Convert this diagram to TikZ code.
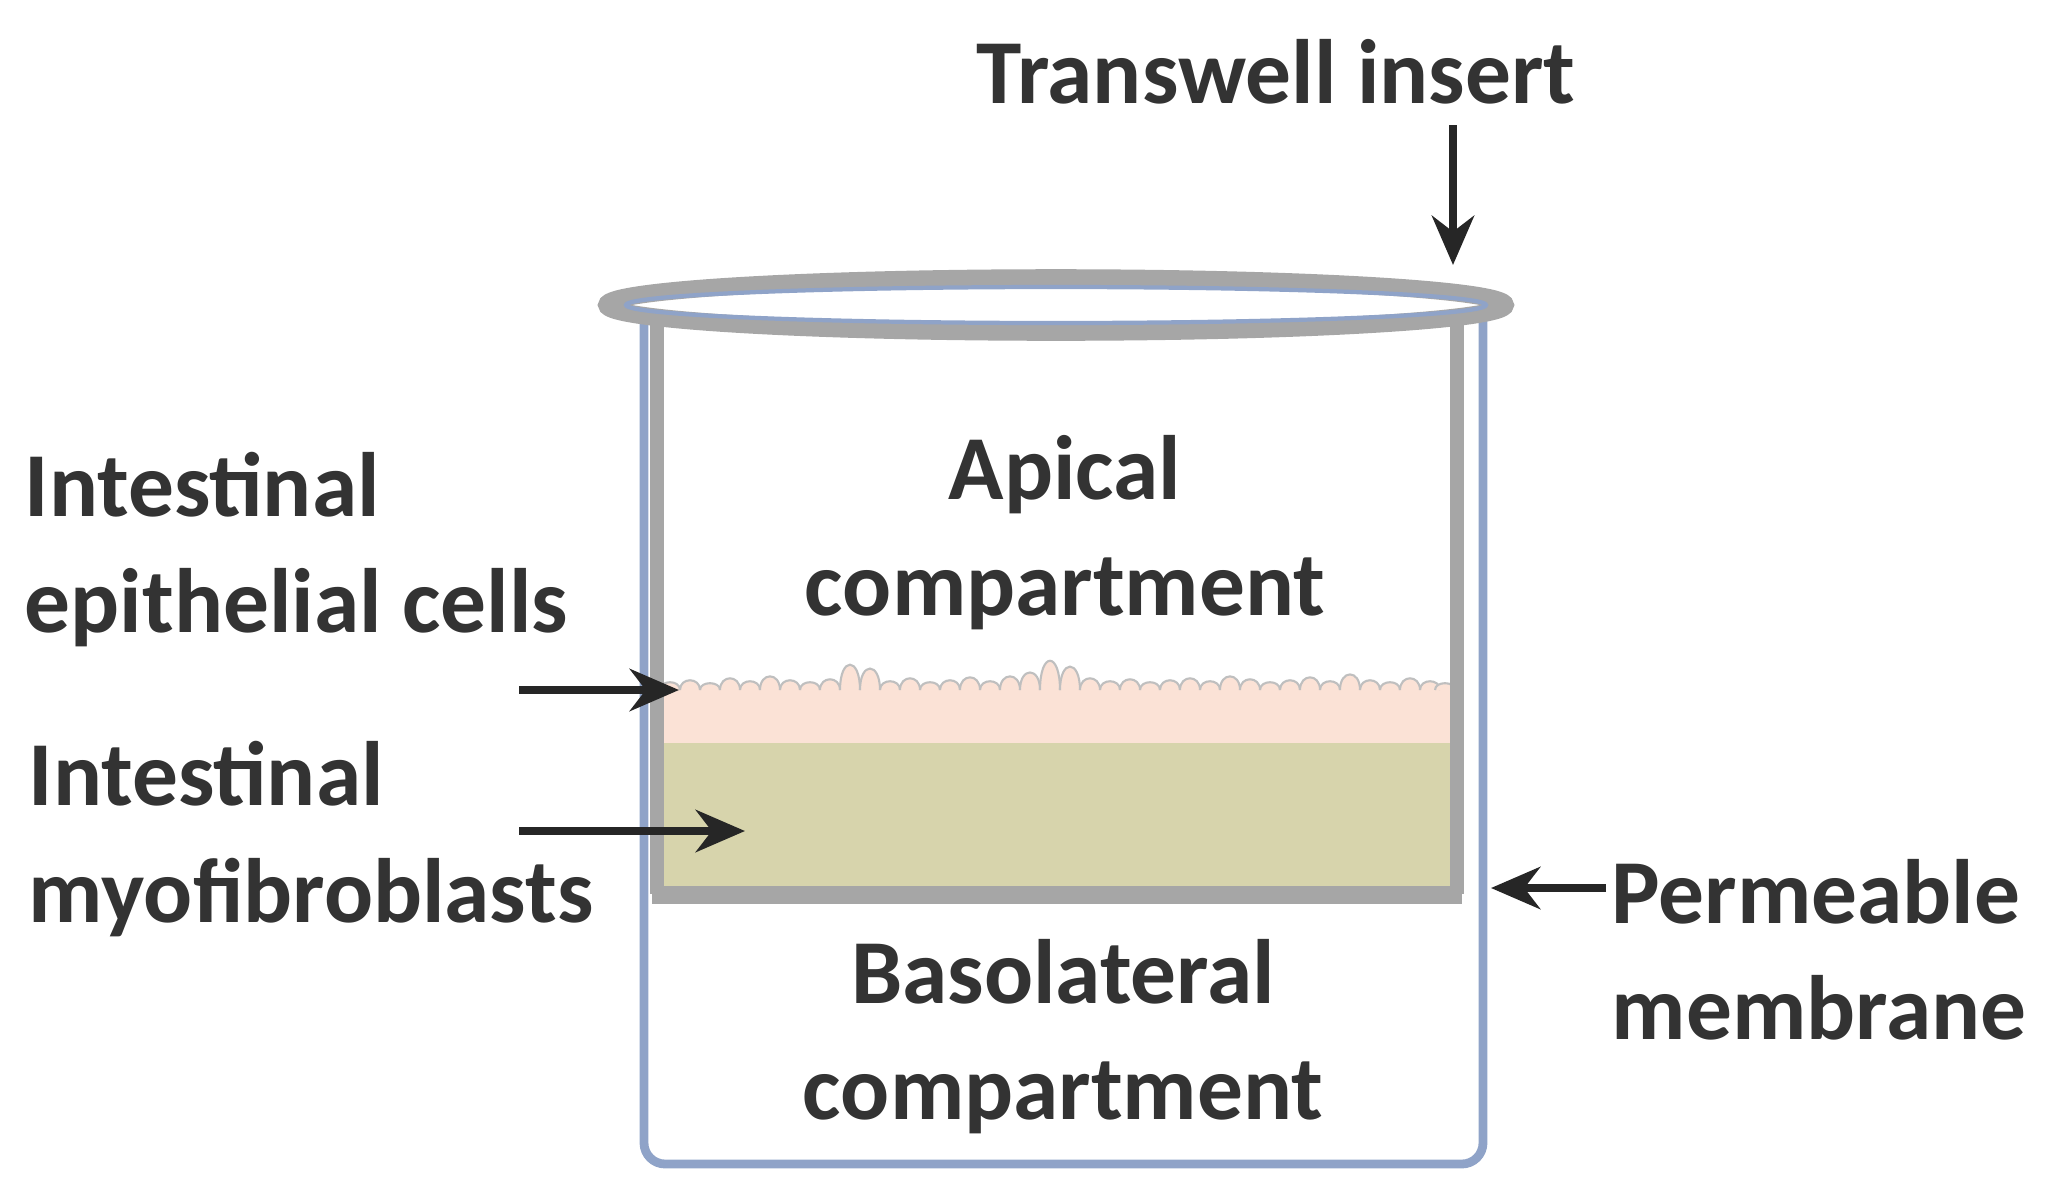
\documentclass[tikz,border=0pt]{standalone}
\usepackage{fontspec}
\setmainfont{Carlito}
\usetikzlibrary{arrows.meta}
\definecolor{wellblue}{HTML}{8FA3C8}
\definecolor{insgray}{HTML}{A6A6A6}
\definecolor{olive}{HTML}{D7D4AC}
\definecolor{pinkc}{HTML}{FBE2D6}
\tikzset{lbl/.style={font=\fontsize{26}{33}\selectfont\bfseries, text=black!80, inner sep=0pt},
 arr/.style={-{Stealth[length=14pt,width=12pt]}, line width=2.2pt, black!85}}
\begin{document}
\begin{tikzpicture}[x=0.01cm,y=-0.01cm]
\useasboundingbox (0,0) rectangle (2051,1193);
% outer well
\draw[wellblue, line width=2.5pt, rounded corners=6pt] (644,310) -- (644,1164) -- (1483,1164) -- (1483,310);
% myofibroblast layer
\fill[olive] (660,736) rectangle (1455,894);
% epithelial layer with bumps
\fill[pinkc] (660,690) rectangle (1455,743);
\foreach \x/\h in {670/8,690/10,710/7,730/12,750/9,770/14,790/10,810/8,830/11,850/26,870/22,890/9,910/12,930/8,950/10,970/13,990/9,1010/14,1030/18,1050/30,1070/24,1090/12,1110/9,1130/11,1150/8,1170/10,1190/12,1210/9,1230/14,1250/11,1270/8,1290/10,1310/13,1330/9,1350/16,1370/10,1390/8,1410/12,1430/9,1445/7}
  \draw[black!25, fill=pinkc, line width=0.6pt] (\x-10,690) .. controls (\x-10,690-\h*1.3) and (\x+10,690-\h*1.3) .. (\x+10,690);
% membrane
\fill[insgray] (652,886) rectangle (1462,904);
% insert walls
\draw[insgray, line width=4pt] (657,318) -- (657,894);
\draw[insgray, line width=4pt] (1457,318) -- (1457,894);
% rim
\draw[insgray, line width=5pt, fill=white] (1056,305) ellipse [x radius=449, y radius=27];
\draw[wellblue, line width=1.2pt] (1056,305) ellipse [x radius=430, y radius=18];
% labels
\node[lbl] (ti) at (1276,72) {Transwell insert};
\coordinate (tiend) at (1453,265);
\draw[arr] (1453,125) -- (tiend);
\node[lbl, align=center] (ap) at (1065,533) {Apical\\compartment};
\node[lbl, align=center] (ba) at (1063,1037) {Basolateral\\compartment};
\node[lbl, align=left, anchor=west] (ep) at (24,550) {Intestinal\\epithelial cells};
\node[lbl, align=left, anchor=west] (my) at (28,839) {Intestinal\\myofibroblasts};
\node[lbl, align=left, anchor=west] (pm) at (1611,950) {Permeable\\membrane};
\coordinate (epa) at (519,690); \coordinate (epb) at (679,690);
\coordinate (mya) at (519,831); \coordinate (myb) at (745,831);
\coordinate (pma) at (1606,888); \coordinate (pmb) at (1491,888);
\draw[arr] (epa) -- (epb);
\draw[arr] (mya) -- (myb);
\draw[arr] (pma) -- (pmb);
\end{tikzpicture}
\end{document}
